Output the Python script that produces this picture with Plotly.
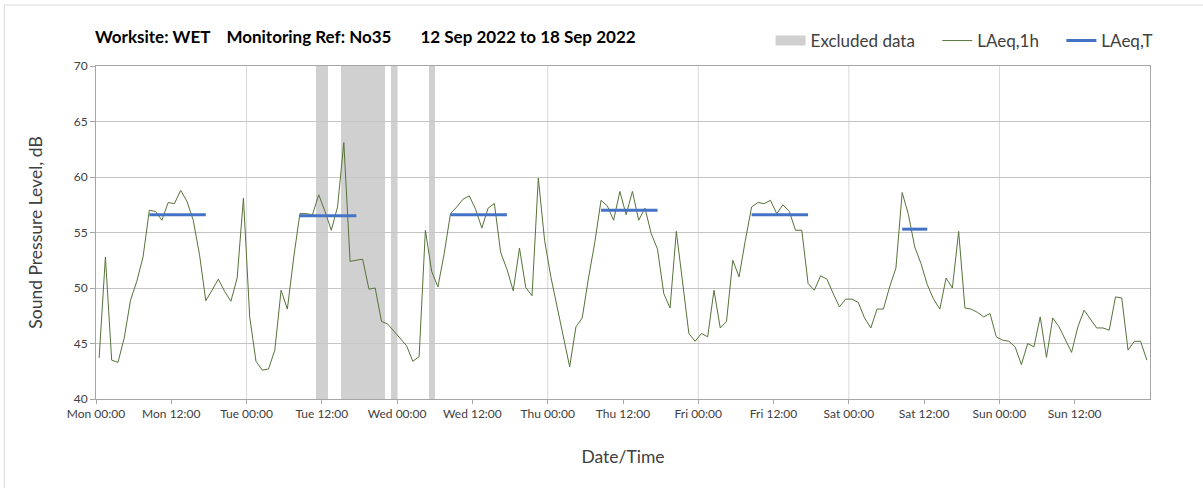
import pandas as pd
import plotly.graph_objects as go

# ---------------- data ----------------
first_hour = "2022-09-12 00:30"
laeq_1h = [
    43.7, 52.8, 43.5, 43.3, 45.5, 48.9, 50.6, 52.8, 57.0, 56.9, 56.1, 57.7,
    57.6, 58.8, 57.8, 56.1, 53.0, 48.85, 49.8, 50.8, 49.7, 48.8, 50.9, 58.1,
    47.4, 43.4, 42.6, 42.7, 44.4, 49.8, 48.1, 52.7, 56.7, 56.7, 56.6, 58.4,
    56.9, 55.2, 57.3, 63.1, 52.4, 52.5, 52.6, 49.9, 50.0, 47.0, 46.75, 46.1,
    45.4, 44.8, 43.4, 43.8, 55.2, 51.5, 50.1, 53.1, 56.7, 57.3, 58.0, 58.3,
    57.1, 55.4, 57.2, 57.6, 53.2, 51.7, 49.75, 53.6, 50.05, 49.3, 59.9, 54.3,
    51.0, 48.2, 45.6, 42.9, 46.5, 47.3, 50.9, 54.1, 57.9, 57.4, 56.1, 58.7,
    56.6, 58.7, 56.1, 57.2, 54.9, 53.5, 49.5, 48.2, 55.1, 50.4, 45.9, 45.2,
    45.9, 45.6, 49.8, 46.4, 47.0, 52.5, 51.0, 54.3, 57.3, 57.7, 57.6, 57.9,
    56.7, 57.5, 56.9, 55.2, 55.2, 50.4, 49.8, 51.1, 50.8, 49.5, 48.3, 49.0,
    49.0, 48.7, 47.3, 46.4, 48.1, 48.1, 50.1, 51.8, 58.6, 56.6, 53.7, 52.2,
    50.3, 49.0, 48.1, 50.9, 50.0, 55.1, 48.2, 48.1, 47.8, 47.4, 47.7, 45.6,
    45.3, 45.2, 44.7, 43.1, 45.0, 44.7, 47.4, 43.75, 47.3, 46.5, 45.3, 44.2,
    46.5, 48.0, 47.2, 46.4, 46.4, 46.2, 49.2, 49.1, 44.4, 45.2, 45.2, 43.5,
]

laeq_t_start = ["2022-09-12 08:30", "2022-09-13 08:30", "2022-09-14 08:30",
                "2022-09-15 08:30", "2022-09-16 08:30", "2022-09-17 08:30"]
laeq_t_end = ["2022-09-12 17:30", "2022-09-13 17:30", "2022-09-14 17:30",
              "2022-09-15 17:30", "2022-09-16 17:30", "2022-09-17 12:30"]
laeq_t_values = [56.6, 56.5, 56.6, 57.0, 56.6, 55.3]

excluded_start = ["2022-09-13 11:00", "2022-09-13 15:00",
                  "2022-09-13 23:00", "2022-09-14 05:00"]
excluded_end = ["2022-09-13 13:00", "2022-09-13 22:00",
                "2022-09-14 00:00", "2022-09-14 06:00"]

x_range = ["2022-09-12 00:00", "2022-09-19 00:00"]
y_range = [40, 70]

SP = "&nbsp;"
title_text = ("Worksite: WET" + SP * 3 + " Monitoring Ref: No35" + SP * 6
              + " 12 Sep 2022 to 18 Sep 2022")

# ---------------- derived ----------------
times = pd.date_range(first_hour, periods=len(laeq_1h), freq="h")

ex_s = pd.to_datetime(excluded_start)
ex_e = pd.to_datetime(excluded_end)
ex_mid = ex_s + (ex_e - ex_s) / 2
ex_width = [(e - s).total_seconds() * 1000 for s, e in zip(ex_s, ex_e)]

tx, ty = [], []
for s, e, v in zip(laeq_t_start, laeq_t_end, laeq_t_values):
    tx += [s, e, None]
    ty += [v, v, None]

tick_vals = pd.date_range(x_range[0], x_range[1], freq="12h")[:-1]

FONT = "Lato, 'Open Sans', sans-serif"
GRAY_BAND = "rgba(200,200,200,0.85)"

fig = go.Figure()
fig.add_trace(go.Bar(
    x=ex_mid, y=[y_range[1] - y_range[0]] * len(ex_mid), base=y_range[0],
    width=ex_width, name="Excluded data", showlegend=False, legendgroup="ex",
    marker=dict(color=GRAY_BAND, line=dict(width=0)),
))
# legend entry for excluded data (wide grey swatch)
fig.add_trace(go.Scatter(
    x=[None], y=[None], mode="lines", name="Excluded data" + SP * 4,
    legendgroup="ex", line=dict(color="#d0d0d0", width=10),
))
fig.add_trace(go.Scatter(
    x=times, y=laeq_1h, mode="lines", name="LAeq,1h" + SP * 4,
    line=dict(color="#56733a", width=1),
))
fig.add_trace(go.Scatter(
    x=tx, y=ty, mode="lines", name="LAeq,T",
    line=dict(color="#4472C4", width=3),
))

# vertical day gridlines
days = pd.date_range(x_range[0], x_range[1], freq="D")
for d in days[1:-1]:
    fig.add_shape(type="line", xref="x", yref="paper", x0=d, x1=d, y0=0, y1=1,
                  line=dict(color="#d9d9d9", width=1), layer="below")

# outer chart border
fig.add_shape(type="rect", xref="paper", yref="paper",
              x0=-0.087, x1=1.06, y0=-0.3, y1=1.183,
              line=dict(color="#d9d9d9", width=1), layer="below")

fig.update_layout(
    width=1203, height=488,
    margin=dict(l=96, r=53, t=66, b=89, autoexpand=False),
    paper_bgcolor="white", plot_bgcolor="white",
    font=dict(family=FONT, color="#404040"),
    bargap=0,
    title=dict(text="<b>" + title_text + "</b>", xref="container", yref="container",
               x=95 / 1203, xanchor="left", y=1 - 37 / 488, yanchor="middle",
               font=dict(size=17, color="#000000", family=FONT)),
    legend=dict(orientation="h", x=0.64, xanchor="left", y=1.075, yanchor="middle",
                font=dict(size=17, color="#404040"), bgcolor="rgba(0,0,0,0)",
                traceorder="normal"),
    showlegend=True,
)

fig.update_xaxes(
    type="date", range=x_range, tickmode="array", tickvals=tick_vals,
    tickformat="%a %H:%M", ticks="outside", ticklen=4, tickcolor="#a6a6a6",
    showgrid=False, showline=True, linecolor="#a6a6a6", linewidth=1, mirror=True,
    tickfont=dict(size=12, color="#404040"), automargin=False,
    title=dict(text="Date/Time", font=dict(size=17.5, color="#404040"), standoff=30),
    zeroline=False,
)
fig.update_yaxes(
    range=y_range, dtick=5, ticks="outside", ticklen=5, tickcolor="#a6a6a6",
    showgrid=True, gridcolor="#c4c4c4", gridwidth=1,
    showline=True, linecolor="#a6a6a6", linewidth=1, mirror=True,
    tickfont=dict(size=12, color="#404040"), automargin=False,
    title=dict(text="Sound Pressure Level, dB", font=dict(size=17.5, color="#404040"), standoff=26),
    zeroline=False,
)

fig.write_html("out.html", config={"displayModeBar": False},
               post_script="document.body.style.margin='0';")
